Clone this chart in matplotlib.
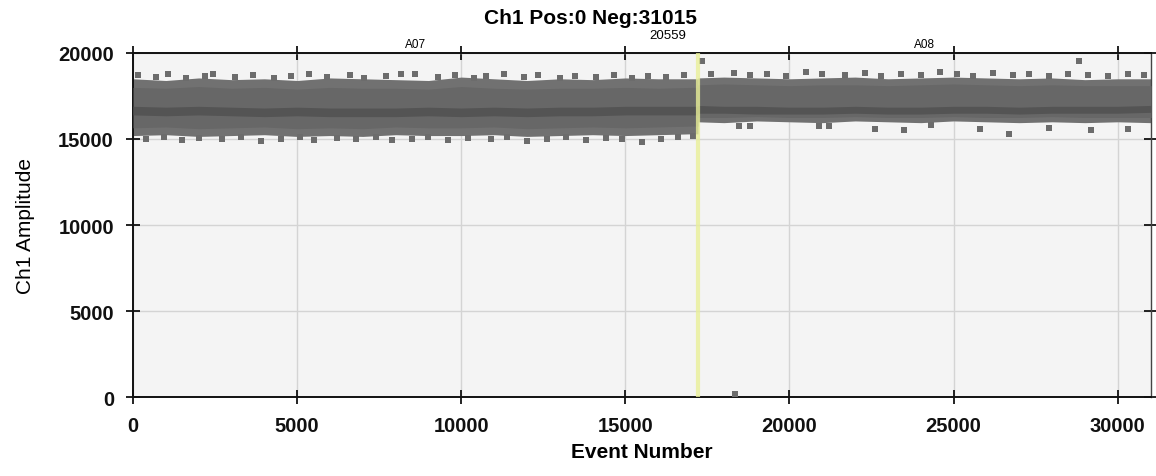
import matplotlib
matplotlib.use("Agg")
import matplotlib.pyplot as plt
import numpy as np

plt.rcParams['font.family'] = ['Liberation Sans', 'DejaVu Sans']

# event ranges of the two wells
wells = ['A07', 'A08']
well_start = [0, 17210]
well_end = [17210, 31015]
boundary_label = '20559'

# band envelopes (event number -> amplitude)
a07_x = [0, 1000, 2000, 3000, 4000, 5000, 6000, 7000, 8000, 9000, 10000,
         11000, 12000, 13000, 14000, 15000, 16000, 17000, 17210]
a07_hi = [18500, 18400, 18550, 18450, 18500, 18400, 18550, 18500, 18450, 18400,
          18600, 18500, 18400, 18500, 18450, 18550, 18500, 18500, 18500]
a07_body_hi = [18000, 17950, 18050, 17950, 18000, 17900, 18000, 17950, 17950, 17900,
               18050, 17950, 17900, 17950, 17950, 18000, 17950, 18000, 18000]
a07_body_lo = [15650, 15700, 15600, 15650, 15700, 15600, 15650, 15600, 15700, 15650,
               15650, 15700, 15600, 15650, 15700, 15650, 15700, 15750, 15750]
a07_lo = [15200, 15250, 15150, 15200, 15250, 15150, 15200, 15150, 15250, 15200,
          15200, 15250, 15150, 15200, 15250, 15200, 15250, 15300, 15300]
a07_core_hi = [16900, 16850, 16900, 16850, 16800, 16850, 16800, 16800, 16800, 16850,
               16800, 16850, 16800, 16850, 16850, 16900, 16900, 16900, 16900]
a07_core_lo = [16400, 16350, 16400, 16350, 16300, 16350, 16300, 16300, 16300, 16350,
               16300, 16350, 16300, 16350, 16350, 16400, 16400, 16400, 16400]

a08_x = [17210, 18000, 19000, 20000, 21000, 22000, 23000, 24000, 25000, 26000,
         27000, 28000, 29000, 30000, 31000, 31015]
a08_hi = [18550, 18600, 18550, 18500, 18550, 18600, 18500, 18550, 18600, 18550,
          18500, 18550, 18450, 18500, 18500, 18500]
a08_body_hi = [18150, 18200, 18150, 18100, 18150, 18150, 18100, 18150, 18200, 18150,
               18100, 18150, 18100, 18100, 18100, 18100]
a08_body_lo = [16250, 16250, 16300, 16250, 16250, 16300, 16250, 16250, 16300, 16250,
               16250, 16300, 16250, 16250, 16250, 16250]
a08_lo = [16000, 15950, 16050, 16000, 15950, 16050, 16000, 15950, 16050, 16000,
          15950, 16000, 15950, 16000, 15950, 15950]
a08_core_hi = [16950, 16900, 16900, 16850, 16850, 16900, 16850, 16850, 16900, 16900,
               16850, 16900, 16900, 16900, 16950, 16950]
a08_core_lo = [16500, 16500, 16450, 16450, 16450, 16500, 16450, 16450, 16500, 16500,
               16450, 16500, 16500, 16500, 16550, 16550]

# stray droplets along the ragged band edges and a few outliers
stray_x = [150, 700, 1050, 1600, 2200, 2450, 3100, 3650, 4300, 4800, 5350, 5900,
           6600, 7050, 7700, 8150, 8600, 9300, 9800, 10400, 10750, 11300, 11900,
           12350, 13000, 13450, 14100, 14650, 15200, 15700, 16250, 16800,
           400, 950, 1500, 2000, 2700, 3300, 3900, 4500, 5100, 5500, 6200, 6800,
           7400, 7900, 8500, 9000, 9600, 10200, 10900, 11400, 12000, 12600, 13200,
           13800, 14400, 14900, 15500, 16100, 16600, 17050,
           17600, 18300, 18800, 19300, 19900, 20500, 21000, 21700, 22300, 22800,
           23400, 24000, 24600, 25100, 25600, 26200, 26800, 27300, 27900, 28500,
           29100, 29700, 30300, 30800,
           18450, 18800, 20900, 21200, 22600, 23500, 24300, 25800, 26700, 27900,
           29200, 30300, 17330, 28810, 18340]
stray_y = [18700, 18600, 18750, 18550, 18650, 18800, 18600, 18700, 18550, 18650,
           18750, 18600, 18700, 18550, 18650, 18750, 18800, 18600, 18700, 18550,
           18650, 18750, 18600, 18700, 18550, 18650, 18600, 18700, 18550, 18650,
           18600, 18700,
           15000, 15100, 14950, 15050, 15000, 15100, 14900, 15000, 15100, 14950,
           15050, 15000, 15100, 14950, 15000, 15100, 14950, 15050, 15000, 15100,
           14900, 15000, 15100, 14950, 15050, 15000, 14850, 15000, 15100, 15150,
           18750, 18850, 18700, 18800, 18650, 18900, 18750, 18700, 18850, 18650,
           18800, 18700, 18900, 18750, 18650, 18850, 18700, 18800, 18650, 18750,
           18700, 18650, 18800, 18700,
           15750, 15750, 15750, 15750, 15600, 15500, 15800, 15600, 15300, 15650,
           15500, 15600, 19530, 19535, 175]

xticks = [0, 5000, 10000, 15000, 20000, 25000, 30000]
yticks = [0, 5000, 10000, 15000, 20000]

fig = plt.figure(figsize=(11.56, 4.77), dpi=100)
ax = fig.add_axes([0.1151, 0.1656, 0.8806, 0.7212])
ax.set_facecolor('#f4f4f4')

for xs, lo, blo, clo, chi, bhi, hi in [
        (a07_x, a07_lo, a07_body_lo, a07_core_lo, a07_core_hi, a07_body_hi, a07_hi),
        (a08_x, a08_lo, a08_body_lo, a08_core_lo, a08_core_hi, a08_body_hi, a08_hi)]:
    ax.fill_between(xs, lo, hi, color='#717171', lw=0, zorder=2)
    ax.fill_between(xs, blo, bhi, color='#676767', lw=0, zorder=3)
    ax.fill_between(xs, clo, chi, color='#545454', lw=0, zorder=4)

ax.plot(stray_x, stray_y, 's', ms=4, color='#6c6c6c', mew=0, zorder=3)

ax.axvline(well_start[1], color='#e9ef98', lw=3, alpha=0.8, zorder=5)

ax.set_xlim(0, 31015)
ax.set_ylim(0, 20000)
ax.set_xticks(xticks)
ax.set_yticks(yticks)
ax.grid(color='#d4d4d4', linewidth=1.0, zorder=1)
ax.set_axisbelow(True)

for side in ['left', 'bottom', 'top']:
    ax.spines[side].set_linewidth(1.4)
    ax.spines[side].set_color('#111111')
ax.spines['right'].set_linewidth(1.0)
ax.spines['right'].set_color('#444444')

ax.tick_params(axis='both', which='major', direction='inout', length=9.5, width=1.3,
               labelsize=14.5, pad=9, colors='#111111')
ax.tick_params(axis='x', top=True, labeltop=False)
ax.tick_params(axis='y', right=True, labelright=False)
for lab in ax.get_xticklabels() + ax.get_yticklabels():
    lab.set_fontweight('bold')

ax.set_xlabel('Event Number', fontsize=15, fontweight='bold', labelpad=5)
ax.set_ylabel('Ch1 Amplitude', fontsize=15, labelpad=17)

for name, s, e in zip(wells, well_start, well_end):
    ax.text((s + e) / 2, 20150, name, ha='center', va='bottom', fontsize=8.5)
ax.text(16300, 20700, boundary_label, ha='center', va='bottom', fontsize=9.5)

fig.text(591 / 1156, 1 - 18 / 477, 'Ch1 Pos:0 Neg:31015', ha='center', va='center',
         fontsize=15, fontweight='bold')

fig.savefig('out.png', dpi=100)
